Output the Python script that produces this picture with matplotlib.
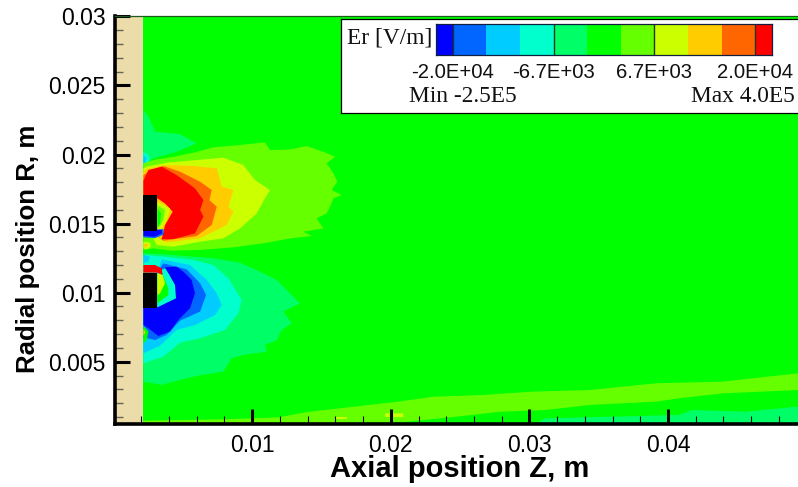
import matplotlib
matplotlib.use("Agg")
import numpy as np
import matplotlib.pyplot as plt
from matplotlib.colors import ListedColormap, BoundaryNorm
from matplotlib.ticker import MultipleLocator, FormatStrFormatter

# contour levels of Er, V/m
level_edges = [-22222, -20000, -15556, -11111, -6667, -2222, 2222, 6667, 11111, 15556, 20000, 22222]
level_colors = ['#0000ff', '#0066ff', '#00ccff', '#00ffcc', '#00ff66', '#00ff00',
                '#66ff00', '#ccff00', '#ffcc00', '#ff6600', '#ff0000']
colorbar_ticks = [-20000, -6667, 6667, 20000]
colorbar_labels = ['-2.0E+04', '-6.7E+03', '6.7E+03', '2.0E+04']
x_ticks = [0.01, 0.02, 0.03, 0.04]
y_ticks = [0.005, 0.01, 0.015, 0.02, 0.025, 0.03]

# solid parts, (z, r) in mm
wall_z = [0.0, 2.15]
electrode_z = [2.15, 3.16]
electrode_upper_r = [14.48, 17.07]
electrode_lower_r = [8.87, 11.45]

# regions, (z, r) in mm
top_teal = [(2.15, 23.22), (2.51, 22.74), (2.99, 21.65), (4.79, 21.48), (5.99, 20.81), (4.55, 20.20), (2.87, 19.72), (2.15, 19.36)]
top_spot_a = [(2.15, 20.2), (2.51, 19.96), (2.63, 19.60), (2.39, 19.24), (2.15, 19.12)]
top_spot_b = [(2.15, 19.96), (2.39, 19.72), (2.27, 19.41), (2.15, 19.36)]

upper_l6 = [(2.15, 19.36), (2.87, 19.60), (4.31, 19.84), (5.75, 20.13), (7.20, 20.52), (9.12, 20.69), (10.92, 20.88),
            (11.29, 20.32), (12.73, 20.37), (13.93, 20.61), (15.13, 20.20), (15.98, 19.84), (15.37, 19.36), (15.86, 18.64),
            (16.14, 18.03), (15.73, 17.43), (16.46, 17.07), (15.86, 16.83), (15.61, 16.22), (15.37, 15.74), (14.65, 15.38),
            (15.13, 14.65), (13.69, 14.41), (14.29, 14.10), (12.73, 13.93), (10.80, 13.57), (8.64, 13.28), (6.24, 13.09),
            (4.07, 13.04), (2.87, 13.21), (2.15, 13.09)]
upper_l7 = [(2.39, 19.12), (3.83, 19.41), (5.99, 19.60), (7.92, 19.77), (9.36, 19.24), (10.20, 18.15), (11.29, 17.43),
            (10.92, 16.83), (10.32, 15.74), (9.12, 14.65), (7.92, 13.93), (6.24, 13.69), (4.31, 13.33), (3.11, 13.45),
            (2.87, 13.93), (2.15, 14.5), (2.15, 19.0)]
upper_l8 = [(2.51, 19.00), (3.83, 19.24), (5.75, 19.17), (7.44, 19.00), (7.80, 17.67), (8.64, 17.43), (8.28, 16.22),
            (8.64, 15.86), (8.16, 14.90), (6.24, 13.93), (3.83, 13.64), (3.23, 13.93), (2.15, 15.0), (2.15, 18.8)]
upper_l9 = [(2.51, 18.76), (3.59, 19.17), (4.79, 18.76), (6.24, 18.03), (7.08, 17.43), (6.91, 16.70), (7.44, 16.22),
            (7.08, 14.90), (5.99, 14.10), (3.59, 13.76), (3.30, 13.98), (2.15, 15.0), (2.15, 18.5)]
upper_notch = [(3.16, 16.9), (4.40, 15.9), (3.95, 14.6), (3.40, 13.85), (3.16, 14.3)]
upper_l10 = [(2.15, 17.07), (2.15, 18.10), (2.51, 18.88), (3.47, 19.12), (4.55, 18.51), (5.87, 17.55), (6.48, 16.70),
             (6.24, 15.98), (6.48, 15.50), (5.87, 14.29), (4.31, 13.88), (3.47, 13.88), (3.71, 14.89), (4.26, 15.86),
             (3.71, 16.46), (3.16, 16.83)]
notch_l7 = [(3.16, 16.58), (4.07, 16.10), (3.83, 15.26), (3.47, 14.65), (3.16, 14.53)]
notch_l6 = [(3.16, 16.34), (3.71, 15.98), (3.59, 15.26), (3.30, 14.77), (3.16, 14.65)]
notch_l5 = [(3.16, 16.10), (3.42, 15.74), (3.35, 15.02), (3.16, 14.73)]
under_l1 = [(2.15, 14.55), (3.6, 14.6), (3.6, 14.2), (3.0, 13.95), (2.15, 14.0)]
under_l0 = [(2.15, 14.48), (3.47, 14.53), (3.47, 14.29), (2.99, 14.05), (2.15, 14.10)]
gap_spot_a = [(2.15, 13.69), (2.63, 13.62), (2.68, 13.33), (2.39, 13.13), (2.15, 13.21)]
gap_spot_b = [(2.2, 13.55), (2.5, 13.5), (2.42, 13.3), (2.2, 13.27)]

lower_l4 = [(2.15, 12.85), (3.35, 12.80), (5.03, 12.66), (7.20, 12.49), (9.12, 12.17), (10.56, 11.52), (11.77, 10.92),
            (13.45, 9.23), (12.25, 8.63), (12.85, 7.78), (12.13, 7.30), (11.77, 6.57), (10.92, 6.21), (11.05, 5.73),
            (9.36, 5.49), (8.52, 5.25), (7.92, 4.28), (5.99, 3.97), (4.31, 3.56), (3.47, 3.32), (2.15, 3.56)]
lower_l3 = [(2.15, 12.73), (3.59, 12.61), (5.75, 12.37), (7.20, 12.00), (8.28, 11.04), (8.64, 10.44), (9.24, 9.47),
            (9.00, 8.51), (8.04, 7.30), (6.24, 6.70), (4.79, 6.38), (3.59, 5.37), (2.15, 4.89)]
lower_l2 = [(3.47, 12.41), (5.51, 12.00), (6.72, 10.92), (7.44, 9.95), (7.80, 9.11), (7.32, 8.38), (5.87, 7.66),
            (4.55, 7.30), (3.35, 6.16), (2.15, 5.61), (2.15, 8.9), (3.16, 8.9), (3.16, 11.5)]
lower_l1 = [(3.59, 12.12), (5.27, 11.69), (6.24, 10.68), (6.67, 9.83), (6.24, 8.63), (4.79, 7.97), (3.83, 6.94),
            (2.99, 6.57), (2.15, 6.77), (2.15, 8.9), (3.16, 8.9), (3.16, 11.5)]
lower_l0 = [(2.15, 8.94), (3.16, 8.94), (3.83, 9.35), (4.43, 9.59), (4.36, 10.56), (3.95, 11.40), (3.71, 11.84),
            (4.55, 11.88), (5.03, 11.52), (5.63, 10.92), (5.87, 9.95), (5.51, 8.87), (4.67, 8.02), (4.07, 7.18),
            (3.23, 6.86), (2.51, 7.42), (2.15, 7.66)]
lower_gap_l3 = [(3.16, 11.52), (3.71, 11.76), (3.95, 11.40), (4.43, 10.56), (4.50, 9.59), (3.16, 8.94)]
lower_gap_l5 = [(3.16, 11.28), (3.59, 11.21), (3.95, 10.31), (3.95, 9.83), (3.16, 9.23)]
lower_gap_l7 = [(3.16, 11.40), (3.54, 11.28), (3.71, 10.68), (3.35, 9.95), (3.16, 9.83)]
lower_cap = [(2.15, 11.45), (3.16, 11.45), (3.54, 11.28), (3.47, 11.76), (2.99, 12.0), (2.15, 12.0)]
lower_top_spot = [(2.15, 12.73), (2.63, 12.61), (2.51, 12.25), (2.15, 12.13)]
side_spot_l5 = [(2.15, 7.59), (2.51, 7.18), (2.39, 6.57), (2.15, 6.33)]
side_spot_l8 = [(2.15, 7.37), (2.29, 7.13), (2.15, 6.86)]

band_l6 = [(2.15, 0.73), (8.0, 0.83), (11.87, 0.97), (14.12, 1.38), (16.37, 1.63), (20.54, 2.11), (23.11, 2.47),
           (26.65, 2.59), (30.18, 2.83), (34.36, 2.95), (39.17, 3.44), (43.99, 3.56), (47.2, 3.92), (49.4, 4.16),
           (49.4, 2.95), (43.99, 2.71), (40.78, 2.35), (39.17, 2.11), (34.36, 1.87), (31.14, 1.50), (27.93, 1.38),
           (24.72, 1.02), (21.18, 0.66), (8.66, 0.4), (2.15, 0.4)]
band_spot_a = [(19.6, 1.27), (20.9, 1.25), (20.9, 1.0), (19.6, 1.0)]
band_spot_b = [(16.0, 0.97), (16.85, 0.97), (16.85, 0.83), (16.0, 0.83)]
band_l4 = [(30.18, 0.4), (31.14, 0.90), (35.96, 1.02), (40.78, 1.14), (41.74, 1.50), (45.6, 1.38), (49.4, 1.75), (49.4, 0.4)]

# paint order: outer contours first, (level index, region)
layers = [
    (4, top_teal), (3, top_spot_a), (2, top_spot_b),
    (4, lower_l4), (3, lower_l3), (2, lower_l2), (1, lower_l1), (0, lower_l0),
    (3, lower_gap_l3), (5, lower_gap_l5), (7, lower_gap_l7), (10, lower_cap), (2, lower_top_spot),
    (5, side_spot_l5), (8, side_spot_l8),
    (6, upper_l6), (7, upper_l7), (8, upper_l8), (9, upper_l9), (8, upper_notch), (10, upper_l10),
    (7, notch_l7), (6, notch_l6), (5, notch_l5), (1, under_l1), (0, under_l0),
    (7, gap_spot_a), (8, gap_spot_b),
    (6, band_l6), (7, band_spot_a), (7, band_spot_b), (4, band_l4),
]

plt.rcParams['font.family'] = ['Liberation Sans', 'DejaVu Sans']
serif = ['Liberation Serif', 'DejaVu Serif']

W, H = 798, 487
fig = plt.figure(figsize=(W / 100, H / 100), dpi=100)


def px_axes(left, top, right, bottom, **kw):
    return fig.add_axes([left / W, 1 - bottom / H, (right - left) / W, (bottom - top) / H], **kw)


ax = px_axes(115, 16, 798, 424)
ax.set_facecolor(level_colors[5])
ax.set_xlim(0.0001, 0.04938)
ax.set_ylim(0.00049, 0.03003)

cmap = ListedColormap(level_colors)
for idx, region in layers:
    pts = np.array(region) / 1000.0
    ax.fill(pts[:, 0], pts[:, 1], color=cmap(idx), lw=0, zorder=1.2)

# wall and electrodes sit under the ticks
ax.axvspan(wall_z[0] / 1000, wall_z[1] / 1000, color='#ecdcaa', lw=0, zorder=1.4)
for rr in (electrode_upper_r, electrode_lower_r):
    ax.fill_between(np.array(electrode_z) / 1000, rr[0] / 1000, rr[1] / 1000, color='k', lw=0, zorder=1.6)

ax.xaxis.set_major_locator(plt.FixedLocator(x_ticks))
ax.yaxis.set_major_locator(plt.FixedLocator(y_ticks))
ax.xaxis.set_minor_locator(MultipleLocator(0.002))
ax.yaxis.set_minor_locator(MultipleLocator(0.001))
ax.xaxis.set_major_formatter(FormatStrFormatter('%g'))
ax.yaxis.set_major_formatter(FormatStrFormatter('%g'))
ax.tick_params(which='major', direction='in', length=11, width=2.2, labelsize=16.5, pad=7)
ax.tick_params(axis='x', which='minor', direction='in', length=6, width=0.8, color='k')
ax.tick_params(axis='y', which='minor', direction='in', length=6, width=1.0, color='#666655')

ax.spines['right'].set_visible(False)
ax.spines['left'].set_linewidth(2.6)
ax.spines['bottom'].set_linewidth(2.6)
ax.spines['top'].set_linewidth(0.9)
ax.spines['top'].set_color('#1e5a1e')

ax.set_xlabel('Axial position Z, m', fontsize=21, fontweight='bold')
ax.xaxis.set_label_coords(0.505, -0.075)
ax.set_ylabel('Radial position R, m', fontsize=18.6, fontweight='bold')
ax.yaxis.set_label_coords(-0.11, 0.429)

# legend box, coordinates in pixels
box = px_axes(341, 19, 799, 113)
box.set_xlim(341, 799)
box.set_ylim(113, 19)
box.set_xticks([])
box.set_yticks([])
box.set_zorder(10)
for s in box.spines.values():
    s.set_linewidth(0.9)
box.text(347, 38, 'Er [V/m]', family=serif, fontsize=16.8, va='center', ha='left', color='#111111')
box.text(409, 97, 'Min -2.5E5', family=serif, fontsize=16.8, va='center', ha='left', color='#111111')
box.text(795, 97, 'Max 4.0E5', family=serif, fontsize=16.8, va='center', ha='right', color='#111111')

cbar = px_axes(436, 24, 772, 55)
cbar.set_zorder(11)
norm = BoundaryNorm(level_edges, cmap.N)
centers = (np.array(level_edges[:-1]) + np.array(level_edges[1:])) / 2
cbar.pcolormesh(level_edges, [0, 1], centers.reshape(1, -1), cmap=cmap, norm=norm)
for v in colorbar_ticks:
    cbar.axvline(v, color='#1a3a1a', lw=1.0)
cbar.set_xticks([])
cbar.set_yticks([])
for s in cbar.spines.values():
    s.set_linewidth(0.9)
    s.set_color('#102040')
for v, lab in zip(colorbar_ticks, colorbar_labels):
    xp = 436 + (v - level_edges[0]) / (level_edges[-1] - level_edges[0]) * 336
    box.text(xp, 73, lab, fontsize=14.6, va='center', ha='center', color='#111111')

fig.savefig('out.png', dpi=100)
